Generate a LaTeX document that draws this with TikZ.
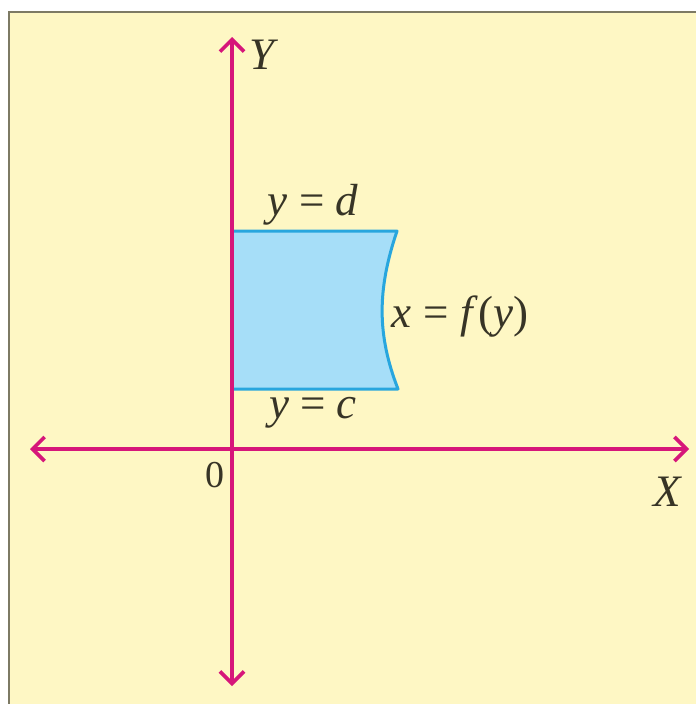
\documentclass[tikz,border=0pt]{standalone}
\usepackage{fontspec}
\setmainfont{Liberation Serif}
\usetikzlibrary{arrows.meta}
\definecolor{bgyellow}{RGB}{254,247,196}
\definecolor{framegray}{RGB}{125,122,100}
\definecolor{axismag}{RGB}{214,22,122}
\definecolor{regfill}{RGB}{166,222,248}
\definecolor{regline}{RGB}{40,166,222}
\definecolor{txt}{RGB}{55,52,38}
\tikzset{
  axis/.style={draw=axismag, line width=3.6pt, {Straight Barb[length=12pt,width=24pt,line width=3.6pt]}-{Straight Barb[length=12pt,width=24pt,line width=3.6pt]}},
  lbl/.style={inner sep=0pt, text=txt, font=\fontsize{45}{50}\selectfont},
  zlbl/.style={inner sep=0pt, text=txt, font=\fontsize{38}{44}\selectfont},
  regionedge/.style={draw=regline, line width=3pt, line join=round}
}
\begin{document}
\begin{tikzpicture}[x=1pt,y=-1pt]
\useasboundingbox (0,0) rectangle (696,704);
\fill[white] (0,0) rectangle (696,704);
\fill[bgyellow] (9,12) rectangle (696,704);
\draw[framegray, line width=2.5pt] (9,704) -- (9,12) -- (696,12);
% region
\coordinate (A) at (232,231);
\coordinate (B) at (397,231);
\coordinate (C) at (398,389);
\coordinate (D) at (232,389);
\fill[regfill] (A) -- (B) .. controls (377,290) and (377,335) .. (C) -- (D) -- cycle;
\draw[regionedge] (A) -- (B) .. controls (377,290) and (377,335) .. (C) -- (D);
% axes
\coordinate (xl) at (30,449);
\coordinate (xr) at (689,449);
\coordinate (yt) at (232,37);
\coordinate (yb) at (232,686);
\draw[axis] (xl) -- (xr);
\draw[axis] (yb) -- (yt);
% labels
\node[lbl] (ylab) at (264,55) {\textit{Y}};
\node[lbl] (xlab) at (668,492) {\textit{X}};
\node[zlbl] (zero) at (215,475) {0};
\node[lbl] (yd) at (313,205) {\textit{y} = \textit{d}};
\node[lbl] (yc) at (313,413) {\textit{y} = \textit{c}};
\node[lbl, anchor=west] (fy) at (391,317) {\textit{x}\kern1pt{} = \textit{f}\kern1pt(\textit{y})};
\end{tikzpicture}
\end{document}
